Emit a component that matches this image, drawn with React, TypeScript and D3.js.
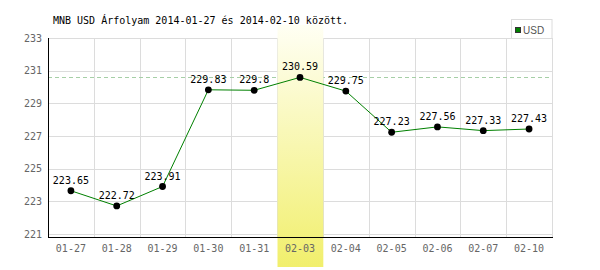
import React from "react";
import * as d3 from "d3";

const dates = ["01-27", "01-28", "01-29", "01-30", "01-31", "02-03", "02-04", "02-05", "02-06", "02-07", "02-10"];
const usd = [223.65, 222.72, 223.91, 229.83, 229.8, 230.59, 229.75, 227.23, 227.56, 227.33, 227.43];
const yTicks = [221, 223, 225, 227, 229, 231, 233];
const highlighted = "02-03";
const title = "MNB USD Árfolyam 2014-01-27 és 2014-02-10 között.";
const seriesName = "USD";

const W = 600, H = 270;
const L = 48, R = 552, T = 38, B = 237;
const mono = "'DejaVu Sans Mono', 'Liberation Mono', monospace";

export default function App() {
  const x = d3.scaleBand<string>().domain(dates).range([L, R]).paddingInner(0).paddingOuter(0);
  const y = d3.scaleLinear().domain([220.82, 233]).range([B, T]);
  const cx = (d: string) => (x(d) as number) + x.bandwidth() / 2;
  const line = d3.line<number>().x((_, i) => cx(dates[i])).y((v) => y(v));
  const maxV = d3.max(usd) as number;
  const hx = x(highlighted) as number;

  return (
    <svg width={W} height={H} style={{ position: "absolute", left: 0, top: 0, background: "#fff" }}>
      <defs>
        <linearGradient id="hl" x1="0" y1="0" x2="0" y2="1">
          <stop offset="0%" stopColor="#fffff4" />
          <stop offset="100%" stopColor="#f1ef6c" />
        </linearGradient>
      </defs>
      <rect x={0} y={0} width={W} height={H} fill="#fff" />
      <text x={53} y={24} fontFamily={mono} fontSize={10} fill="#000">{title}</text>

      {yTicks.map((t) => (
        <line key={"h" + t} x1={L} x2={R} y1={Math.round(y(t)) + 0.5} y2={Math.round(y(t)) + 0.5} stroke="#dcdcdc" strokeWidth={1} />
      ))}
      {dates.map((d, i) => {
        const xx = Math.round((x(d) as number) + x.bandwidth()) + 0.5;
        return <line key={"v" + i} x1={xx} x2={xx} y1={T} y2={B} stroke="#dcdcdc" strokeWidth={1} />;
      })}
      <line x1={L} x2={R - 3} y1={Math.round(y(maxV)) + 0.5} y2={Math.round(y(maxV)) + 0.5} stroke="#a6cfa6" strokeWidth={1} strokeDasharray="4,3" />

      <rect x={Math.round(hx) + 0.5} y={25} width={x.bandwidth()} height={242} fill="url(#hl)" />

      <line x1={L + 0.5} x2={L + 0.5} y1={T} y2={B + 1} stroke="#000" strokeWidth={1} />
      <line x1={L} x2={R + 1} y1={B + 0.5} y2={B + 0.5} stroke="#000" strokeWidth={1} />

      {yTicks.map((t) => (
        <text key={"yl" + t} x={42} y={y(t)} dy="0.35em" textAnchor="end" fontFamily={mono} fontSize={10} fill="#666">{t}</text>
      ))}
      {dates.map((d) => (
        <text key={"xl" + d} x={cx(d)} y={251.5} textAnchor="middle" fontFamily={mono} fontSize={10} fill="#666">{d}</text>
      ))}

      <path d={line(usd) as string} fill="none" stroke="#008000" strokeWidth={1} />
      {usd.map((v, i) => (
        <circle key={"p" + i} cx={cx(dates[i])} cy={y(v)} r={3.4} fill="#000" />
      ))}
      {usd.map((v, i) => (
        <text key={"dl" + i} x={cx(dates[i])} y={y(v) - 7} textAnchor="middle" fontFamily={mono} fontSize={10} fill="#000">{String(v)}</text>
      ))}

      <rect x={511.5} y={19.5} width={40.5} height={19} fill="#fff" stroke="#dcdcdc" strokeWidth={1} />
      <rect x={515.5} y={27.5} width={5} height={5} fill="#008000" stroke="#333" strokeWidth={1} />
      <text x={523} y={33.5} fontFamily="'Liberation Sans', Arial, sans-serif" fontSize={10} fill="#555">{seriesName}</text>
    </svg>
  );
}
